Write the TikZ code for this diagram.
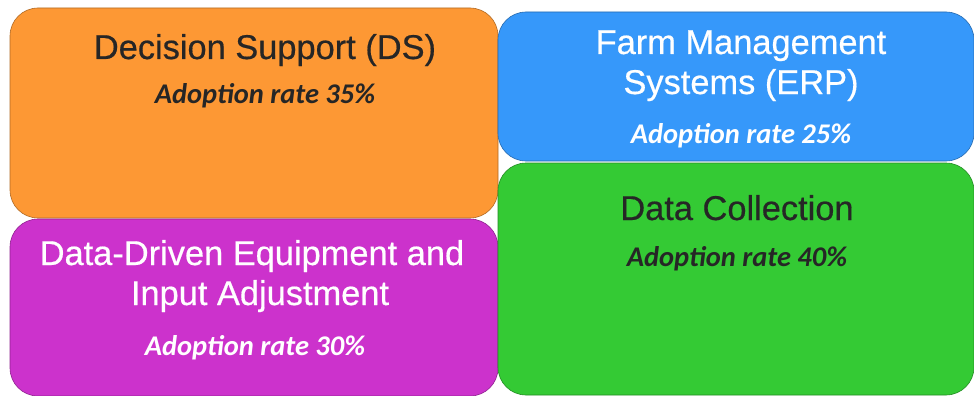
\documentclass[tikz,border=0pt]{standalone}
\usepackage{fontspec}
\setmainfont{Liberation Sans}
\newfontfamily\ttlfont[FakeBold=0.5]{Liberation Sans}
\newfontfamily\carl{Carlito}
\definecolor{cOrange}{RGB}{253,152,52}
\definecolor{cBlue}{RGB}{54,152,250}
\definecolor{cGreen}{RGB}{52,202,52}
\definecolor{cPurple}{RGB}{204,50,204}
\tikzset{
  box/.style={draw=#1!70!black, fill=#1, line width=0.6pt, rounded corners=28pt},
  ttl/.style={font=\ttlfont\fontsize{34.4}{40}\selectfont, anchor=base, inner sep=0pt, align=center},
  rate/.style={font=\carl\bfseries\itshape\fontsize{28.5}{30}\selectfont, anchor=base, inner sep=0pt},
}
\begin{document}
\begin{tikzpicture}[x=1pt,y=-1pt]
\useasboundingbox (0,0) rectangle (974,396);
\fill[white] (0,0) rectangle (974,396);
% boxes
\path[box=cOrange] (10,8) rectangle (498,218);
\path[box=cPurple] (10,219) rectangle (498,396);
\path[box=cBlue] (498,12) rectangle (974,161);
\path[box=cGreen] (498,163) rectangle (974,395);
% texts
\node[ttl, text=black!85] (dsT) at (265,59) {Decision Support (DS)};
\node[rate, text=black!85] (dsR) at (265,103) {Adoption rate 35\%};
\node[ttl, text=white] (fmT1) at (741,54) {Farm Management};
\node[ttl, text=white] (fmT2) at (741,94) {Systems (ERP)};
\node[rate, text=white] (fmR) at (741,143) {Adoption rate 25\%};
\node[ttl, text=black!85] (dcT) at (737,220) {Data Collection};
\node[rate, text=black!85] (dcR) at (737,266) {Adoption rate 40\%};
\node[ttl, text=white] (ddT1) at (252,265) {Data-Driven Equipment and};
\node[ttl, text=white] (ddT2) at (260,305) {Input Adjustment};
\node[rate, text=white] (ddR) at (255,355) {Adoption rate 30\%};
\end{tikzpicture}
\end{document}
